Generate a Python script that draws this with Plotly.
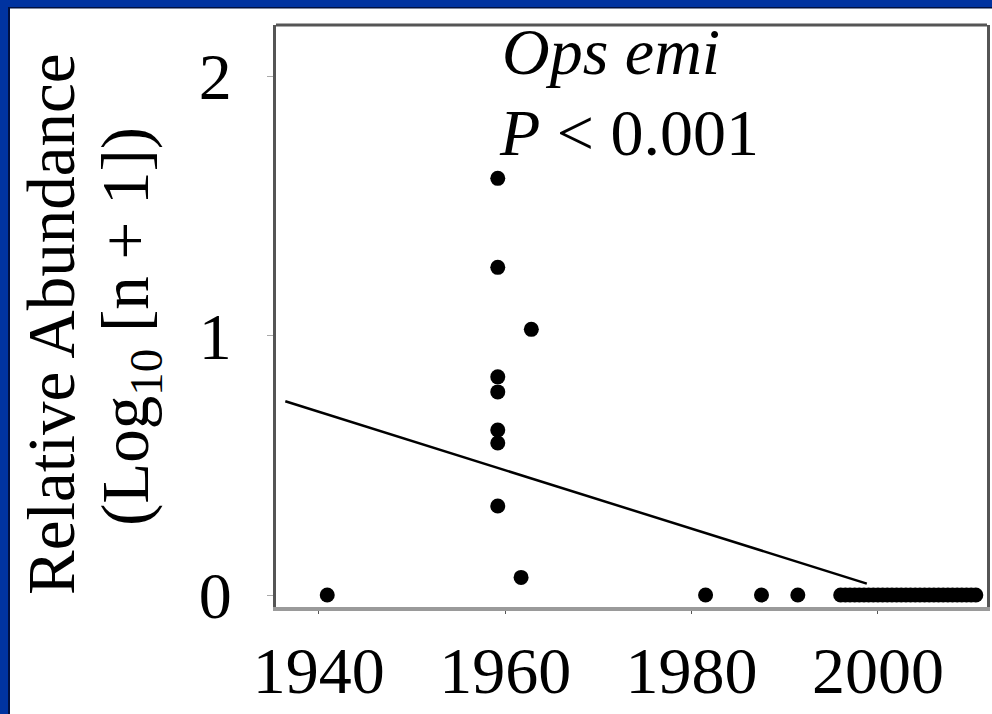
import plotly.graph_objects as go

# ---------------- data ----------------
years = [1940.9, 1959.2, 1959.2, 1959.2, 1959.2, 1959.2, 1959.2, 1959.2,
         1962.8, 1961.7, 1981.5, 1987.5, 1991.4,
         1996, 1996.5, 1997, 1997.5, 1998, 1998.5, 1999, 1999.5, 2000, 2000.5,
         2001, 2001.5, 2002, 2002.5, 2003, 2003.5, 2004, 2004.5, 2005, 2005.5,
         2006, 2006.5, 2007, 2007.5, 2008, 2008.5, 2009, 2009.5, 2010, 2010.5]
abundance = [0.0, 1.606, 1.263, 0.841, 0.783, 0.636, 0.586, 0.343,
             1.024, 0.068, 0.0, 0.0, 0.0,
             0, 0, 0, 0, 0, 0, 0, 0, 0, 0,
             0, 0, 0, 0, 0, 0, 0, 0, 0, 0,
             0, 0, 0, 0, 0, 0, 0, 0, 0, 0]
fit_years = [1936.4, 1998.8]
fit_values = [0.747, 0.044]

x_ticks = [1940, 1960, 1980, 2000]
y_ticks = [0, 1, 2]
species = "Ops emi"
p_text = "<i>P</i> &lt; 0.001"
y_title_1 = "Relative Abundance"
y_title_2 = "(Log<sub>10</sub> [n + 1])"

# ---------------- layout geometry ----------------
W, H = 992, 714
ML, MR, MT, MB = 276, 5, 25, 107
PW, PH = W - ML - MR, H - MT - MB


def px(xp):
    return (xp - ML) / PW


def py(yp):
    return (H - MB - yp) / PH


FONT = "Liberation Serif, Times New Roman, serif"
BLUE = "#0033a0"

fig = go.Figure()
fig.add_trace(go.Scatter(x=fit_years, y=fit_values, mode="lines",
                         line=dict(color="black", width=2.5),
                         showlegend=False, hoverinfo="skip"))
fig.add_trace(go.Scatter(x=years, y=abundance, mode="markers",
                         marker=dict(color="black", size=15),
                         showlegend=False))

fig.update_xaxes(range=[1935.4, 2011.7], tickvals=x_ticks, showgrid=False,
                 automargin=False,
                 zeroline=False, showline=True, linecolor="#9a9a9a", linewidth=4,
                 ticks="outside", ticklen=3, tickcolor="#555", tickwidth=1,
                 ticklabelstandoff=0,
                 tickfont=dict(family=FONT, size=66, color="black"))
fig.update_yaxes(range=[-0.046, 2.197], tickvals=y_ticks, showgrid=False,
                 automargin=False,
                 zeroline=False, showline=True, mirror=True, linecolor="#555",
                 linewidth=3, ticks="outside", ticklen=6, tickcolor="#aaa",
                 tickwidth=1, ticklabelstandoff=22,
                 tickfont=dict(family=FONT, size=66, color="black"))

shapes = [
    # top plot border
    dict(type="line", xref="paper", yref="paper", x0=0, x1=1, y0=1, y1=1,
         line=dict(color="#555", width=3)),
    # blue frame top
    dict(type="rect", xref="paper", yref="paper", x0=px(0), x1=px(W),
         y0=py(7), y1=py(0), fillcolor=BLUE, line=dict(width=0)),
    dict(type="rect", xref="paper", yref="paper", x0=px(8), x1=px(W),
         y0=py(8.5), y1=py(7), fillcolor="#001040", line=dict(width=0)),
    # blue frame left
    dict(type="rect", xref="paper", yref="paper", x0=px(0), x1=px(8),
         y0=py(H), y1=py(0), fillcolor=BLUE, line=dict(width=0)),
    dict(type="rect", xref="paper", yref="paper", x0=px(8), x1=px(10),
         y0=py(H), y1=py(7), fillcolor="#001040", line=dict(width=0)),
]

annotations = [
    dict(text=f"<i>{species}</i>", xref="paper", yref="paper", x=px(500),
         y=py(52), xanchor="left", yanchor="middle", showarrow=False,
         font=dict(family=FONT, size=66, color="black")),
    dict(text=p_text, xref="paper", yref="paper", x=px(497),
         y=py(132), xanchor="left", yanchor="middle", showarrow=False,
         font=dict(family=FONT, size=66, color="black")),
    dict(text=y_title_1, xref="paper", yref="paper", x=px(51), y=py(324),
         xanchor="center", yanchor="middle", textangle=-90, showarrow=False,
         font=dict(family=FONT, size=67, color="black")),
    dict(text=y_title_2, xref="paper", yref="paper", x=px(130), y=py(327),
         xanchor="center", yanchor="middle", textangle=-90, showarrow=False,
         font=dict(family=FONT, size=67, color="black")),
]

fig.update_layout(width=W, height=H,
                  margin=dict(l=ML, r=MR, t=MT, b=MB, pad=0),
                  paper_bgcolor="white", plot_bgcolor="white",
                  shapes=shapes, annotations=annotations)

fig.write_html("out.html",
               config={"displayModeBar": False},
               post_script="document.body.style.margin='0';"
                           "document.body.style.overflow='hidden';")
